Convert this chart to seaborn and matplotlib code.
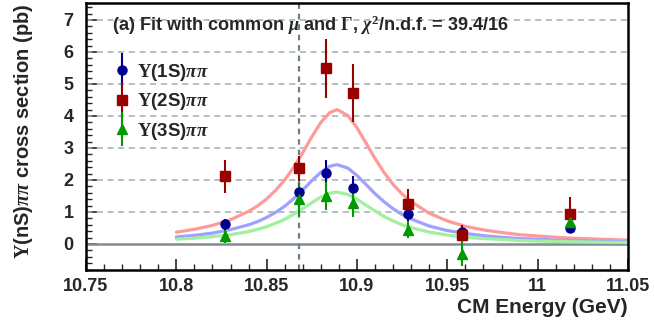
import numpy as np
import matplotlib
matplotlib.use('Agg')
import matplotlib.pyplot as plt
import seaborn as sns
from matplotlib.ticker import MultipleLocator
from matplotlib.legend_handler import HandlerErrorbar
from matplotlib.container import ErrorbarContainer

# Measured points (CM energy in GeV, cross section in pb)
energy = [10.827, 10.868, 10.883, 10.898, 10.928, 10.958, 11.018]
y1s = [0.61, 1.61, 2.23, 1.74, 0.93, 0.37, 0.50]
e1s = [0.18, 0.30, 0.38, 0.40, 0.22, 0.20, 0.15]
y2s = [2.12, 2.36, 5.49, 4.71, 1.24, 0.28, 0.93]
e2s = [0.52, 0.40, 0.92, 0.90, 0.47, 0.31, 0.55]
y3s = [0.24, 1.40, 1.50, 1.29, 0.45, -0.30, 0.70]
e3s = [0.20, 0.52, 0.45, 0.45, 0.27, 0.40, 0.35]

# Fit curves
fit_e = [10.800, 10.810, 10.820, 10.830, 10.840, 10.845, 10.850, 10.855, 10.860,
         10.865, 10.870, 10.875, 10.880, 10.885, 10.889, 10.895, 10.900, 10.905,
         10.910, 10.915, 10.920, 10.925, 10.930, 10.940, 10.950, 10.960, 10.970,
         10.980, 10.990, 11.000, 11.010, 11.020, 11.030, 11.040, 11.050]
fit1s = [0.22, 0.27, 0.34, 0.45, 0.60, 0.70, 0.83, 0.99, 1.18, 1.42, 1.69, 1.98,
         2.24, 2.43, 2.48, 2.37, 2.14, 1.86, 1.57, 1.32, 1.10, 0.92, 0.78, 0.56,
         0.42, 0.33, 0.26, 0.21, 0.17, 0.15, 0.12, 0.11, 0.09, 0.08, 0.07]
fit2s = [0.37, 0.46, 0.58, 0.76, 1.02, 1.19, 1.41, 1.68, 2.00, 2.40, 2.86, 3.35,
         3.80, 4.11, 4.20, 4.01, 3.63, 3.15, 2.67, 2.23, 1.86, 1.56, 1.32, 0.96,
         0.72, 0.55, 0.44, 0.36, 0.29, 0.25, 0.21, 0.18, 0.16, 0.14, 0.12]
fit3s = [0.15, 0.18, 0.23, 0.29, 0.39, 0.46, 0.54, 0.65, 0.77, 0.93, 1.10, 1.29,
         1.47, 1.59, 1.62, 1.55, 1.40, 1.21, 1.03, 0.86, 0.72, 0.60, 0.51, 0.37,
         0.28, 0.21, 0.17, 0.14, 0.11, 0.09, 0.08, 0.07, 0.06, 0.05, 0.05]

xticks = [10.75, 10.8, 10.85, 10.9, 10.95, 11.0, 11.05]
xticklabels = ['10.75', '10.8', '10.85', '10.9', '10.95', '11', '11.05']
yticks = [0, 1, 2, 3, 4, 5, 6, 7]
m5s = 10.868

sns.set_style("white")
plt.rcParams['font.family'] = ['Liberation Sans', 'DejaVu Sans']
plt.rcParams['font.weight'] = 'bold'
plt.rcParams['mathtext.fontset'] = 'custom'
plt.rcParams['mathtext.rm'] = 'Liberation Serif'
plt.rcParams['mathtext.it'] = 'Liberation Serif:italic'
plt.rcParams['mathtext.bf'] = 'Liberation Serif:bold'

fig = plt.figure(figsize=(6.54, 3.27), dpi=100)
ax = fig.add_axes([86 / 654, 57 / 327, 542 / 654, 267 / 327])

# grid + reference lines
for yv in yticks[1:]:
    ax.axhline(yv, color='#a3adb5', lw=1.1, dashes=(4, 3), zorder=1)
ax.axhline(0, color='#7f8c93', lw=1.8, zorder=1)
ax.axvline(m5s, color='#6f7f88', lw=1.6, dashes=(2.5, 2.2), zorder=1)

# fit curves
sns.lineplot(x=fit_e, y=fit2s, ax=ax, color='#ff9a9a', lw=2.3, zorder=2)
sns.lineplot(x=fit_e, y=fit1s, ax=ax, color='#a0a0ff', lw=2.3, zorder=2)
sns.lineplot(x=fit_e, y=fit3s, ax=ax, color='#a0f0a0', lw=2.3, zorder=2)

# data points
eb1 = ax.errorbar(energy, y1s, yerr=e1s, fmt='o', color='#00008f', ms=6.5,
                  elinewidth=1.5, capsize=0, zorder=3)
eb2 = ax.errorbar(energy, y2s, yerr=e2s, fmt='s', color='#990000', ms=6.5,
                  elinewidth=1.5, capsize=0, zorder=3)
eb3 = ax.errorbar(energy, y3s, yerr=e3s, fmt='^', color='#009900', ms=6.5,
                  elinewidth=1.5, capsize=0, zorder=3)

ax.legend([eb1, eb2, eb3],
          [r'$\Upsilon$(1S)$\pi\pi$', r'$\Upsilon$(2S)$\pi\pi$', r'$\Upsilon$(3S)$\pi\pi$'],
          loc='upper left', bbox_to_anchor=(0.036, 0.815), frameon=False,
          fontsize=13.5, handlelength=0.8, handletextpad=0.4, labelspacing=0.45,
          borderpad=0, handler_map={ErrorbarContainer: HandlerErrorbar(yerr_size=0.9)})

fig.text(112 / 654, 1 - 25 / 327,
         r'(a) Fit with common $\mu$ and $\Gamma$, $\chi^2$/n.d.f. = 39.4/16',
         ha='left', va='center', fontsize=13.1, fontweight='bold')

ax.set_xlim(10.75, 11.05)
ax.set_ylim(-0.8125, 7.53)
ax.set_xticks(xticks, xticklabels)
ax.set_yticks(yticks)
ax.xaxis.set_minor_locator(MultipleLocator(0.01))
ax.yaxis.set_minor_locator(MultipleLocator(0.2))
ax.tick_params(which='major', direction='in', length=8, width=1.2, labelsize=13,
               top=False, right=False, bottom=True, left=True)
ax.tick_params(which='minor', direction='in', length=4, width=1.0,
               top=False, right=False, bottom=True, left=True)
ax.tick_params(axis='y', pad=9)
ax.tick_params(axis='x', pad=6)
for lab in ax.get_xticklabels() + ax.get_yticklabels():
    lab.set_fontweight('bold')

for sp in ax.spines.values():
    sp.set_linewidth(1.8)
    sp.set_color('black')

ax.set_xlabel('CM Energy (GeV)', fontsize=15, fontweight='bold', loc='right')
ax.set_ylabel(r'$\Upsilon$(nS)$\pi\pi$ cross section (pb)', fontsize=14.5,
              fontweight='bold', loc='top')
ax.yaxis.set_label_coords(-0.095, 1.0)
ax.xaxis.set_label_coords(1.0, -0.105)

fig.savefig('out.png', dpi=100)
